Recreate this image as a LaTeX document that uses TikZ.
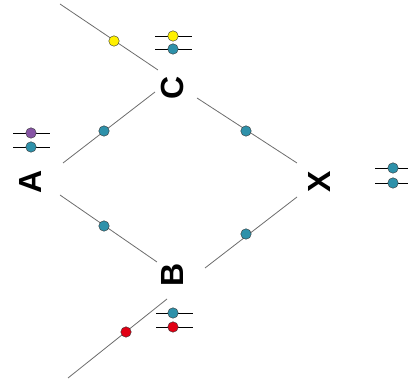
\documentclass[tikz,border=0pt]{standalone}
\usepackage{fontspec}
\setmainfont{Liberation Sans}
\begin{document}
\begin{tikzpicture}[x=1pt,y=-1pt,
  edge/.style={draw=gray!85!black,line width=0.8pt},
  leg/.style={draw=black,line width=0.8pt},
  dot/.style={circle,draw=black!80,line width=0.4pt,inner sep=0pt,minimum size=10.5pt},
  teal/.style={dot,fill={rgb,255:red,46;green,145;blue,170}},
  yel/.style={dot,fill={rgb,255:red,255;green,240;blue,0}},
  redd/.style={dot,fill={rgb,255:red,225;green,0;blue,20}},
  purp/.style={dot,fill={rgb,255:red,135;green,85;blue,165}},
  lbl/.style={font=\bfseries\fontsize{32}{32}\selectfont,rotate=90,inner sep=0pt}]
\useasboundingbox (0,0) rectangle (408,385);
% labels
\node[lbl] (A) at (30,182) {A};
\node[lbl] (C) at (172,88) {C};
\node[lbl] (B) at (172,275) {B};
\node[lbl] (X) at (319,182) {X};
% edge endpoints
\coordinate (tl1) at (60,4);  \coordinate (tl2) at (158,70);
\coordinate (ac1) at (63,163); \coordinate (ac2) at (155,92);
\coordinate (ab1) at (60,195); \coordinate (ab2) at (157,262);
\coordinate (cx1) at (197,98); \coordinate (cx2) at (297,163);
\coordinate (bx1) at (205,268); \coordinate (bx2) at (297,197);
\coordinate (bl1) at (68,378); \coordinate (bl2) at (167,299);
\draw[edge] (tl1) -- (tl2);
\draw[edge] (ac1) -- (ac2);
\draw[edge] (ab1) -- (ab2);
\draw[edge] (cx1) -- (cx2);
\draw[edge] (bx1) -- (bx2);
\draw[edge] (bl1) -- (bl2);
\node[yel] (d1) at (114,41) {};
\node[teal] (d2) at (104,131) {};
\node[teal] (d3) at (104,226) {};
\node[teal] (d4) at (246,131) {};
\node[teal] (d5) at (246,234) {};
\node[redd] (d6) at (126,332) {};
% legends
\coordinate (lc1a) at (155,36); \coordinate (lc1b) at (192,36);
\coordinate (lc2a) at (155,49); \coordinate (lc2b) at (192,49);
\draw[leg] (lc1a) -- (lc1b); \draw[leg] (lc2a) -- (lc2b);
\node[yel] (c1) at (173,36) {}; \node[teal] (c2) at (173,49) {};
\coordinate (la1a) at (13,133); \coordinate (la1b) at (50,133);
\coordinate (la2a) at (13,147); \coordinate (la2b) at (50,147);
\draw[leg] (la1a) -- (la1b); \draw[leg] (la2a) -- (la2b);
\node[purp] (a1) at (31,133) {}; \node[teal] (a2) at (31,147) {};
\coordinate (lx1a) at (375,168); \coordinate (lx1b) at (408,168);
\coordinate (lx2a) at (375,183); \coordinate (lx2b) at (408,183);
\draw[leg] (lx1a) -- (lx1b); \draw[leg] (lx2a) -- (lx2b);
\node[teal] (x1) at (393,168) {}; \node[teal] (x2) at (393,183) {};
\coordinate (lb1a) at (156,313); \coordinate (lb1b) at (193,313);
\coordinate (lb2a) at (156,327); \coordinate (lb2b) at (193,327);
\draw[leg] (lb1a) -- (lb1b); \draw[leg] (lb2a) -- (lb2b);
\node[teal] (b1) at (173,313) {}; \node[redd] (b2) at (173,327) {};
\end{tikzpicture}
\end{document}
